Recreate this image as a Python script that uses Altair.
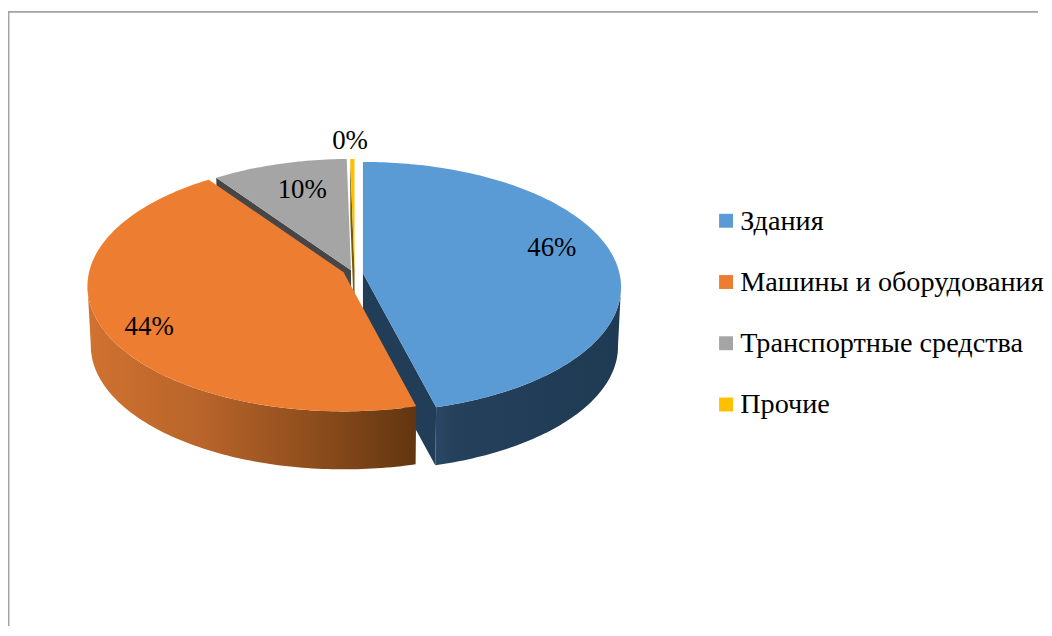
import math
import altair as alt

# ---- data
categories = ["Здания", "Машины и оборудования", "Транспортные средства", "Прочие"]
shares = [45.9, 44.3, 9.5, 0.3]
colors = ["#5B9BD5", "#ED7D31", "#A5A5A5", "#FFC000"]

# ---- layout of the perspective pie, in chart pixels
W, H = 1036, 620
B, K = 124.4, 0.111                # disc half height and perspective strength
A = [258.0, 256.0, 256.0, 256.0]   # disc half width of each slice
S, D0 = 0.988, 60.0                # lower disc scale and drop
VX = 360.0                         # vanishing x of the lower disc
apex = [(357.0, 265.0), (337.5, 264.0), (345.0, 262.0), (348.5, 262.0)]
label_pos = [(547.0, 240.0), (142.0, 319.0), (296.0, 181.0), (344.0, 132.0)]
FONT = "Liberation Serif"


def top(i, deg):
    t = math.radians(deg)
    u, v = math.sin(t), math.cos(t)
    w = 1 + K * v
    return apex[i][0] + A[i] * u / w, apex[i][1] - B * v / w


def low(i, p):
    x, y = p
    ox, oy = apex[i]
    return VX + (x - VX) * S, oy + (y - oy) * S + D0


def feature(points, **props):
    ring = [list(p) for p in points] + [list(points[0])]
    return {"type": "Feature", "geometry": {"type": "Polygon", "coordinates": [ring]}, "properties": props}


# slice angle ranges from the shares
edges = [0.0]
for s in shares:
    edges.append(edges[-1] + s * 3.6)

inner_fill = {0: "#223D57", 2: "#464646", 3: "#7A5C00"}

faces = []
for i, deg in ((2, edges[2]), (3, edges[3]), (0, edges[1])):
    a0 = top(i, deg)
    c0 = apex[i]
    faces.append(feature([c0, a0, low(i, a0), low(i, c0)], fill=inner_fill[i]))


def wall(i, d0, d1):
    n = int(abs(d1 - d0))
    ang = [d0 + (d1 - d0) * k / n for k in range(n + 1)]
    upper = [top(i, a) for a in ang]
    return [feature(upper + [low(i, p) for p in reversed(upper)])]


# the walls run from the slice corner to the point where the rim turns away
blue_wall = wall(0, 96.0, edges[1])
orange_wall = wall(1, edges[1], 264.0)

tops = []
for i in (2, 3, 0, 1):
    d0, d1 = edges[i], edges[i + 1]
    n = max(int(d1 - d0), 4)
    pts = [apex[i]] + [top(i, d0 + (d1 - d0) * k / n) for k in range(n + 1)]
    tops.append(feature(pts, name=categories[i]))

labels = [
    {"t": f"{round(s)}%", "lon": p[0], "lat": p[1]} for s, p in zip(shares, label_pos)
]
frame = [{
    "type": "Feature",
    "geometry": {"type": "LineString", "coordinates": [[0.6, H], [0.6, 2], [W, 2]]},
    "properties": {},
}]

proj = dict(type="identity", scale=1, translate=[0, 0])

frame_l = alt.Chart(alt.Data(values=frame)).mark_geoshape(
    filled=False, stroke="#A3A3A3", strokeWidth=1.8
).project(**proj)

face_l = alt.Chart(alt.Data(values=faces)).mark_geoshape(strokeWidth=0).encode(
    fill=alt.Fill("properties.fill:N", scale=None),
).project(**proj)


def grad(stops):
    return alt.LinearGradient(
        gradient="linear", x1=0, x2=1, y1=0, y2=0,
        stops=[alt.GradientStop(offset=o, color=c) for o, c in stops],
    )


blue_l = alt.Chart(alt.Data(values=blue_wall)).mark_geoshape(
    strokeWidth=0,
    fill=grad([(0, "#2A4866"), (0.1, "#24405B"), (1, "#1F3A53")]),
).project(**proj)

orange_l = alt.Chart(alt.Data(values=orange_wall)).mark_geoshape(
    strokeWidth=0,
    fill=grad([(0, "#D07230"), (0.35, "#B8642A"), (0.65, "#93501E"), (1, "#623610")]),
).project(**proj)

top_l = alt.Chart(alt.Data(values=tops)).mark_geoshape(strokeWidth=0).encode(
    fill=alt.Fill(
        "properties.name:N",
        scale=alt.Scale(domain=categories, range=colors),
        sort=categories,
        legend=alt.Legend(
            title=None,
            orient="none",
            legendX=708,
            legendY=198,
            symbolType="square",
            symbolSize=196,
            symbolStrokeWidth=0,
            labelFont=FONT,
            labelFontSize=28.4,
            labelColor="#000000",
            labelLimit=400,
            labelOffset=0,
            rowPadding=32.6,
            padding=0,
        ),
    )
).project(**proj)

text_l = alt.Chart(alt.Data(values=labels)).mark_text(
    font=FONT, fontSize=27, color="#000000", align="center", baseline="middle"
).encode(
    longitude="lon:Q", latitude="lat:Q", text="t:N"
).project(**proj)

chart = alt.layer(frame_l, face_l, blue_l, orange_l, top_l, text_l).properties(
    width=W, height=H, padding=0, background="#FFFFFF"
).configure_view(stroke=None)

chart.save("out.html", embed_options={"renderer": "svg", "actions": False})
